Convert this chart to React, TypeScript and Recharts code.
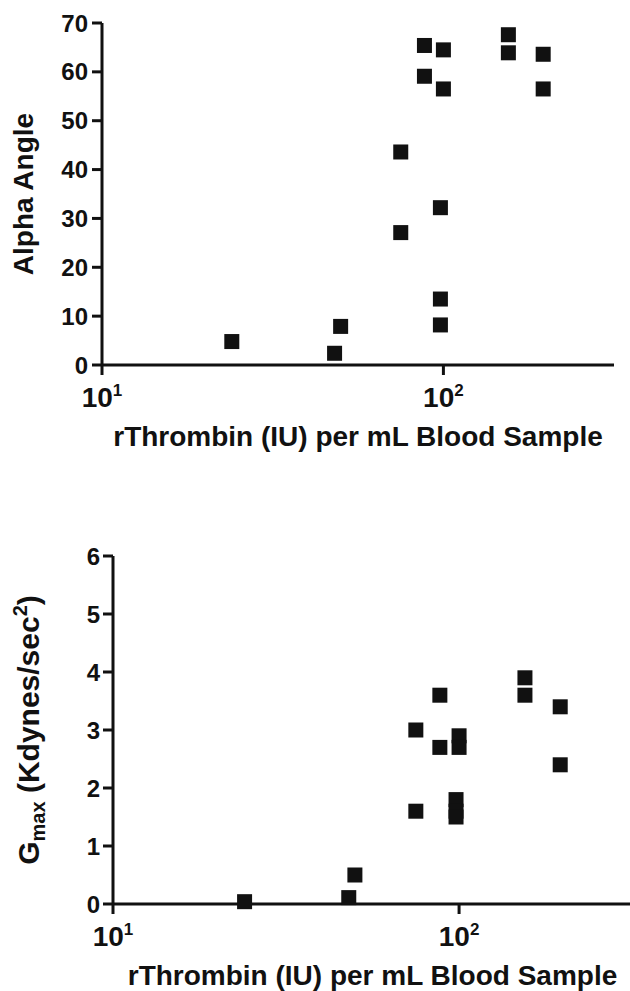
import React from "react";
import { ScatterChart, Scatter, XAxis, YAxis, Label } from "recharts";

// rThrombin dose per sample (IU / mL), shared by both panels
const thrombinDose = [24, 48, 50, 75, 75, 88, 88, 100, 100, 98, 98, 98, 155, 155, 196, 196];
// TEG alpha angle for each sample
const alphaAngle = [4.8, 2.4, 7.9, 43.6, 27.1, 65.4, 59.1, 64.5, 56.5, 32.2, 13.5, 8.2, 67.6, 63.9, 63.6, 56.5];
// Gmax (Kdynes/sec^2) for each sample
const gmaxValue = [0.04, 0.11, 0.5, 3.0, 1.6, 3.6, 2.7, 2.9, 2.7, 1.8, 1.6, 1.5, 3.9, 3.6, 3.4, 2.4];

const xTicks = [10, 100];
const alphaTicks = [0, 10, 20, 30, 40, 50, 60, 70];
const gmaxTicks = [0, 1, 2, 3, 4, 5, 6];
const xTitle = "rThrombin (IU) per mL Blood Sample";

const INK = "#111";
const FONT = "'Liberation Sans', Arial, Helvetica, sans-serif";

const alphaData = thrombinDose.map((x, i) => ({ x, y: alphaAngle[i] }));
const gmaxData = thrombinDose.map((x, i) => ({ x, y: gmaxValue[i] }));

const Square = (props: any) => {
  const { cx, cy } = props;
  if (cx == null || cy == null) return null;
  return <rect x={cx - 7.5} y={cy - 7.5} width={15} height={15} fill={INK} />;
};

const XTick = (props: any) => {
  const { x, y, payload } = props;
  const exp = Math.round(Math.log10(payload.value));
  return (
    <text x={x} y={y} dy={32} textAnchor="middle" fontFamily={FONT} fontWeight="bold" fontSize={28} fill={INK}>
      10<tspan fontSize={17} dy={-11}>{exp}</tspan>
    </text>
  );
};

const YTick = (props: any) => {
  const { x, y, payload } = props;
  return (
    <text x={x} y={y} dy="0.36em" textAnchor="end" fontFamily={FONT} fontWeight="bold" fontSize={24} fill={INK}>
      {payload.value}
    </text>
  );
};

const XTitle = (props: any) => {
  const { x, y, width } = props.viewBox;
  return (
    <text x={x + width / 2} y={y + 81} textAnchor="middle" fontFamily={FONT} fontWeight="bold" fontSize={28} fill={INK}>
      {xTitle}
    </text>
  );
};

const AlphaTitle = (props: any) => {
  const { y, height } = props.viewBox;
  const cx = 33;
  const cy = y + height / 2;
  return (
    <text x={cx} y={cy} transform={`rotate(-90, ${cx}, ${cy})`} textAnchor="middle" fontFamily={FONT} fontWeight="bold" fontSize={28} fill={INK}>
      Alpha Angle
    </text>
  );
};

const GmaxTitle = (props: any) => {
  const { y, height } = props.viewBox;
  const cx = 39;
  const cy = y + height / 2;
  return (
    <text x={cx} y={cy} transform={`rotate(-90, ${cx}, ${cy})`} textAnchor="middle" fontFamily={FONT} fontWeight="bold" fontSize={30} fill={INK}>
      G<tspan fontSize={20} dy={6}>max</tspan>
      <tspan dy={-6}> (Kdynes/sec</tspan>
      <tspan fontSize={20} dy={-12}>2</tspan>
      <tspan dy={12}>)</tspan>
    </text>
  );
};

const axisStyle = { stroke: INK, strokeWidth: 3 };

export default function App() {
  return (
    <div style={{ position: "absolute", left: 0, top: 0, width: 630, height: 991, background: "#fff", overflow: "hidden" }}>
      <div style={{ position: "absolute", left: 0, top: 0 }}>
        <ScatterChart width={630} height={470} margin={{ top: 23, right: 16, bottom: 0, left: 0 }}>
          <XAxis
            type="number"
            dataKey="x"
            scale="log"
            domain={[10, 316]}
            allowDataOverflow
            ticks={xTicks}
            interval={0}
            height={105}
            tickSize={10}
            tickMargin={0}
            tick={<XTick />}
            axisLine={axisStyle}
            tickLine={axisStyle}
          >
            <Label content={XTitle} />
          </XAxis>
          <YAxis
            type="number"
            dataKey="y"
            domain={[0, 70]}
            ticks={alphaTicks}
            interval={0}
            width={102}
            tickSize={10}
            tickMargin={4}
            tick={<YTick />}
            axisLine={axisStyle}
            tickLine={axisStyle}
          >
            <Label content={AlphaTitle} />
          </YAxis>
          <Scatter data={alphaData} shape={Square} isAnimationActive={false} />
        </ScatterChart>
      </div>
      <div style={{ position: "absolute", left: 0, top: 470 }}>
        <ScatterChart width={630} height={521} margin={{ top: 86, right: -2, bottom: 0, left: 0 }}>
          <XAxis
            type="number"
            dataKey="x"
            scale="log"
            domain={[10, 316]}
            allowDataOverflow
            ticks={xTicks}
            interval={0}
            height={87}
            tickSize={10}
            tickMargin={0}
            tick={<XTick />}
            axisLine={axisStyle}
            tickLine={axisStyle}
          >
            <Label content={XTitle} />
          </XAxis>
          <YAxis
            type="number"
            dataKey="y"
            domain={[0, 6]}
            ticks={gmaxTicks}
            interval={0}
            width={113}
            tickSize={10}
            tickMargin={3}
            tick={<YTick />}
            axisLine={axisStyle}
            tickLine={axisStyle}
          >
            <Label content={GmaxTitle} />
          </YAxis>
          <Scatter data={gmaxData} shape={Square} isAnimationActive={false} />
        </ScatterChart>
      </div>
    </div>
  );
}
